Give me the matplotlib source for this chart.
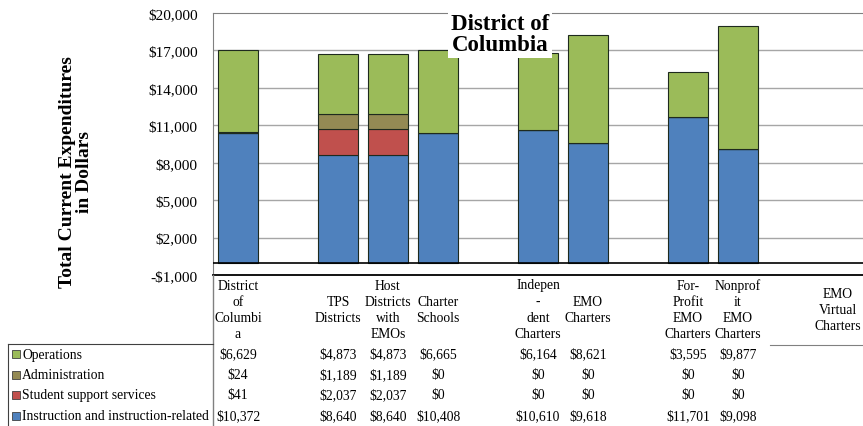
import matplotlib
matplotlib.use("Agg")
import matplotlib.pyplot as plt
from matplotlib.patches import Rectangle
from matplotlib.ticker import FuncFormatter
from matplotlib.transforms import blended_transform_factory

plt.rcParams['font.family'] = ['Liberation Serif', 'DejaVu Serif']

# data
categories = ["District\nof\nColumbi\na", "", "TPS\nDistricts", "Host\nDistricts\nwith\nEMOs",
              "Charter\nSchools", "", "Indepen\n-\ndent\nCharters", "EMO\nCharters", "",
              "For-\nProfit\nEMO\nCharters", "Nonprof\nit\nEMO\nCharters", "",
              "EMO\nVirtual\nCharters"]
instruction = [10372, None, 8640, 8640, 10408, None, 10610, 9618, None, 11701, 9098, None, None]
student = [41, None, 2037, 2037, 0, None, 0, 0, None, 0, 0, None, None]
admin = [24, None, 1189, 1189, 0, None, 0, 0, None, 0, 0, None, None]
operations = [6629, None, 4873, 4873, 6665, None, 6164, 8621, None, 3595, 9877, None, None]

series_names = ["Operations", "Administration", "Student support services",
                "Instruction and instruction-related"]
series_vals = [operations, admin, student, instruction]
colors = {"Instruction and instruction-related": "#4F81BD",
          "Student support services": "#C0504D",
          "Administration": "#948A54",
          "Operations": "#9BBB59"}

W, H = 863, 427
fig = plt.figure(figsize=(W / 100, H / 100), dpi=100)

def fx(p):
    return p / W

def fy(p):
    return 1 - p / H

ax = fig.add_axes([fx(213), fy(276), fx(863) - fx(213), fy(14) - fy(276)])
ax.set_xlim(-0.5, len(categories) - 0.5)
ax.set_ylim(-1000, 20000)

# stacked bars, bottom to top
stack_order = ["Instruction and instruction-related", "Student support services",
               "Administration", "Operations"]
bottoms = [0] * len(categories)
for name in stack_order:
    vals = series_vals[series_names.index(name)]
    for i, v in enumerate(vals):
        if v is None:
            continue
        ax.bar(i, v, bottom=bottoms[i], width=0.8, color=colors[name],
               edgecolor="#1E2A1E", linewidth=0.8, zorder=3)
        bottoms[i] += v

ticks = [-1000, 2000, 5000, 8000, 11000, 14000, 17000, 20000]
ax.set_yticks(ticks)
ax.yaxis.set_major_formatter(FuncFormatter(
    lambda v, p: ("-$" if v < 0 else "$") + format(abs(int(v)), ",")))
ax.tick_params(axis="y", labelsize=11, length=0, pad=11)
ax.set_xticks([])
for t in ticks[1:-1]:
    ax.axhline(t, color="#A6A6A6", linewidth=1, zorder=1)
ax.axhline(0, color="black", linewidth=1.2, zorder=4)
ax.spines["right"].set_visible(False)
ax.spines["top"].set_color("#808080")
ax.spines["left"].set_color("#808080")
ax.spines["bottom"].set_color("black")
ax.spines["bottom"].set_linewidth(1.3)

fig.text(fx(76), fy(172), "Total Current Expenditures\nin Dollars", rotation=90,
         ha="center", va="center", fontsize=14, fontweight="bold", linespacing=1.05)

fig.text(fx(500), fy(35), "District of\nColumbia", ha="center", va="center",
         fontsize=16.5, fontweight="bold", linespacing=1.05, zorder=10,
         bbox=dict(facecolor="white", edgecolor="none", pad=2))

# data table
tr = blended_transform_factory(ax.transData, fig.transFigure)
for i, c in enumerate(categories):
    ax.text(i, fy(310), c, transform=tr, ha="center", va="center", fontsize=9.8,
            linespacing=1.3, clip_on=False)

row_y = [355, 376, 396, 417]
for r, name in enumerate(series_names):
    vals = series_vals[r]
    for i, v in enumerate(vals):
        if v is None:
            continue
        ax.text(i, fy(row_y[r]), "$" + format(v, ","), transform=tr, ha="center",
                va="center", fontsize=9.8, clip_on=False)
    fig.patches.append(Rectangle((fx(12), fy(row_y[r] + 4)), fx(8), fy(0) - fy(8),
                                 transform=fig.transFigure, facecolor=colors[name],
                                 edgecolor="#404040", linewidth=0.6))
    fig.text(fx(22), fy(row_y[r]), name, ha="left", va="center", fontsize=9.8)

# table borders
fig.add_artist(plt.Line2D([fx(213), fx(213)], [fy(276), 0], color="#808080", linewidth=1))
fig.add_artist(plt.Line2D([fx(8), fx(213)], [fy(345), fy(345)], color="#404040", linewidth=0.8))
fig.add_artist(plt.Line2D([fx(8), fx(8)], [fy(345), 0], color="#404040", linewidth=0.8))
fig.add_artist(plt.Line2D([fx(770), fx(863)], [fy(346), fy(346)], color="#808080", linewidth=0.8))

fig.savefig("out.png", dpi=100)
